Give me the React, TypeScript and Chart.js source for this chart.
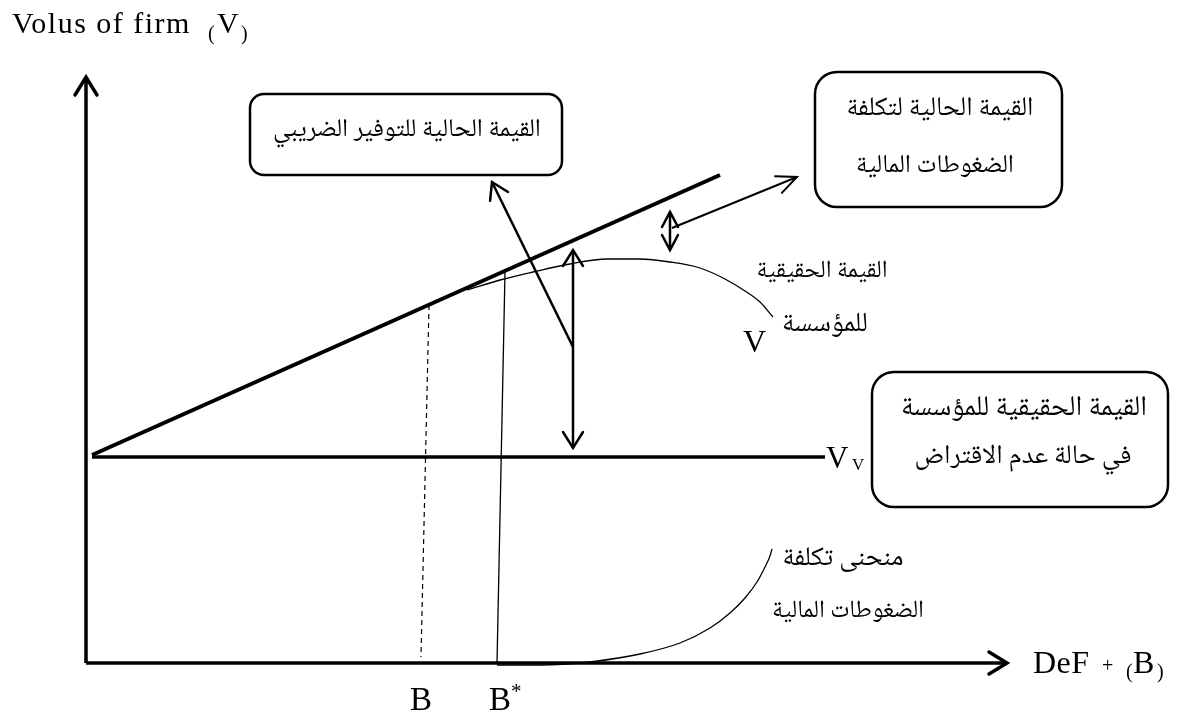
import React, { useEffect, useRef } from "react";
import { Chart, registerables } from "chart.js";

Chart.register(...registerables);

// ---- Diagram data (x = debt "DeF + (B)", y = value of firm "V") ----
const X_MIN = -86;
const X_MAX = 1099;
const Y_MIN = -53;
const Y_MAX = 663;

const yAxisPts = [{ x: 0, y: 0 }, { x: 0, y: 586 }];
const xAxisPts = [{ x: 0, y: 0 }, { x: 921, y: 0 }];
// value with tax shield (no distress costs)
const taxShieldPts = [{ x: 6, y: 208 }, { x: 634, y: 488 }];
// unlevered value Vv
const unleveredPts = [{ x: 6, y: 206 }, { x: 739, y: 206 }];
// actual value of firm V
const firmValueX = [381, 414, 447, 484, 521, 554, 584, 614, 639, 659, 674, 687];
const firmValueY = [373, 383, 391, 399, 404, 404, 401, 395, 384, 372, 361, 346];
// financial distress cost curve
const distressX = [411, 450, 480, 504, 554, 594, 624, 644, 659, 671, 679, 684, 686];
const distressY = [-2, -2, -1, 1, 9, 20, 35, 50, 65, 81, 96, 107, 114];
// optimal debt B* and B
const bStarPts = [{ x: 419, y: 391 }, { x: 411, y: 0 }];
const bPts = [{ x: 343, y: 358 }, { x: 335, y: 6 }];
// arrows
const taxGapArrow = [{ x: 487, y: 413 }, { x: 487, y: 215 }];
const taxPointer = [{ x: 487, y: 316 }, { x: 406, y: 481 }];
const costGapArrow = [{ x: 584, y: 451 }, { x: 584, y: 413 }];
const costPointer = [{ x: 586, y: 435 }, { x: 711, y: 486 }];

// text
const yAxisTitle = "Volus of firm";
const xAxisTitle = "DeF";
const boxTexts = [
  ["القيمة الحالية للتوفير الضريبي"],
  ["القيمة الحالية لتكلفة", "الضغوطات المالية"],
  ["القيمة الحقيقية للمؤسسة", "في حالة عدم الاقتراض"],
];
const curveTexts = ["القيمة الحقيقية", "للمؤسسة", "منحنى تكلفة", "الضغوطات المالية"];

// ---- layout (diagram units) ----
const boxes = [
  { x0: 164, x1: 476, y0: 569, y1: 488, r: 14, lines: [{ cx: 321, cy: 530, w: 268 }] },
  { x0: 729, x1: 976, y0: 591, y1: 456, r: 22, lines: [{ cx: 854, cy: 551, w: 187 }, { cx: 849, cy: 494, w: 158 }] },
  { x0: 786, x1: 1082, y0: 291, y1: 156, r: 22, lines: [{ cx: 938, cy: 252, w: 246 }, { cx: 937, cy: 203, w: 217 }] },
];
const curveTextPos = [
  { cx: 736, cy: 389, w: 131 },
  { cx: 739, cy: 336, w: 86 },
  { cx: 757, cy: 101, w: 121 },
  { cx: 762, cy: 49, w: 152 },
];

const LATIN = "'Liberation Serif','DejaVu Serif',serif";
const ARABIC = "'Noto Naskh Arabic','Amiri','Scheherazade New','Noto Sans Arabic','DejaVu Sans',serif";

const toXY = (xs: number[], ys: number[]) => xs.map((x, i) => ({ x, y: ys[i] }));

function line(data: any[], width: number, extra: any = {}) {
  return {
    data,
    showLine: true,
    borderColor: "#000",
    backgroundColor: "#000",
    borderWidth: width,
    pointRadius: 0,
    fill: false,
    tension: 0,
    borderCapStyle: "butt",
    ...extra,
  };
}

const diagramPlugin = {
  id: "diagram",
  afterDatasetsDraw(chart: any) {
    const ctx: CanvasRenderingContext2D = chart.ctx;
    const sx = chart.scales.x;
    const sy = chart.scales.y;
    const px = (v: number) => sx.getPixelForValue(v);
    const py = (v: number) => sy.getPixelForValue(v);
    ctx.save();
    ctx.strokeStyle = "#000";
    ctx.fillStyle = "#000";

    // arrowheads
    chart.data.datasets.forEach((ds: any, i: number) => {
      if (!ds.arrowEnd && !ds.arrowStart) return;
      const pts = chart.getDatasetMeta(i).data;
      const [len, half] = ds.head;
      const head = (tip: any, from: any) => {
        const a = Math.atan2(tip.y - from.y, tip.x - from.x);
        const bx = tip.x - len * Math.cos(a);
        const by = tip.y - len * Math.sin(a);
        const nx = -Math.sin(a) * half;
        const ny = Math.cos(a) * half;
        ctx.beginPath();
        ctx.moveTo(bx + nx, by + ny);
        ctx.lineTo(tip.x, tip.y);
        ctx.lineTo(bx - nx, by - ny);
        ctx.lineWidth = ds.headWidth || ds.borderWidth;
        ctx.lineJoin = "miter";
        ctx.lineCap = "round";
        ctx.stroke();
      };
      if (ds.arrowEnd) head(pts[pts.length - 1], pts[pts.length - 2]);
      if (ds.arrowStart) head(pts[0], pts[1]);
    });

    // boxes
    const fit = (text: string, w: number) => {
      ctx.font = `100px ${ARABIC}`;
      const m = ctx.measureText(text).width;
      return Math.min(30, (100 * w) / m);
    };
    const drawArabic = (text: string, p: any) => {
      const size = fit(text, p.w);
      ctx.font = `${size}px ${ARABIC}`;
      ctx.textAlign = "center";
      ctx.textBaseline = "middle";
      ctx.direction = "rtl";
      ctx.fillText(text, px(p.cx), py(p.cy));
    };
    boxes.forEach((b, bi) => {
      const x0 = px(b.x0), x1 = px(b.x1), y0 = py(b.y0), y1 = py(b.y1);
      ctx.beginPath();
      ctx.lineWidth = 2.5;
      ctx.roundRect(x0, y0, x1 - x0, y1 - y0, b.r);
      ctx.stroke();
      b.lines.forEach((l, li) => drawArabic(boxTexts[bi][li], l));
    });
    curveTexts.forEach((t, i) => drawArabic(t, curveTextPos[i]));

    // latin labels
    ctx.direction = "ltr";
    ctx.textAlign = "left";
    ctx.textBaseline = "alphabetic";
    const tx = (t: string, x: number, y: number, size: number, spacing = 0) => {
      ctx.font = `${size}px ${LATIN}`;
      (ctx as any).letterSpacing = `${spacing}px`;
      ctx.fillText(t, px(x), py(y));
      (ctx as any).letterSpacing = "0px";
    };
    tx(yAxisTitle, -74, 630, 30, 1.5);
    tx("(", 122, 623, 20);
    tx("V", 131, 630, 30);
    tx(")", 155, 623, 20);

    tx(xAxisTitle, 947, -10, 32, 0.5);
    tx("+", 1016, -9, 20);
    tx("(", 1040, -15, 20);
    tx("B", 1047, -10, 32);
    tx(")", 1071, -15, 20);

    tx("B", 324, -47, 33);
    tx("B", 403, -47, 33);
    tx("*", 425, -35, 21);

    tx("V", 657, 311, 32);
    tx("V", 740, 195, 31);
    tx("V", 766, 193, 17);

    ctx.restore();
  },
};

export default function App() {
  const ref = useRef<HTMLCanvasElement | null>(null);
  useEffect(() => {
    document.body.style.margin = "0";
    if (!ref.current) return;
    const chart = new Chart(ref.current, {
      type: "scatter",
      data: {
        datasets: [
          line(yAxisPts, 3.5, { arrowEnd: true, head: [18, 11] }),
          line(xAxisPts, 3.5, { arrowEnd: true, head: [18, 11] }),
          line(taxShieldPts, 4),
          line(unleveredPts, 3.5),
          line(toXY(firmValueX, firmValueY), 1.3, { cubicInterpolationMode: "monotone" }),
          line(toXY(distressX, distressY), 1.3, { cubicInterpolationMode: "monotone" }),
          line(bStarPts, 1.3),
          line(bPts, 1.2, { borderDash: [5, 4] }),
          line(taxGapArrow, 2.5, { arrowEnd: true, arrowStart: true, head: [16, 10] }),
          line(taxPointer, 2.5, { arrowEnd: true, head: [16, 10] }),
          line(costGapArrow, 2.5, { arrowEnd: true, arrowStart: true, head: [15, 8] }),
          line(costPointer, 2, { arrowEnd: true, head: [20, 9] }),
        ] as any,
      },
      options: {
        responsive: false,
        animation: false,
        events: [],
        layout: { padding: 0 },
        plugins: { legend: { display: false }, tooltip: { enabled: false } },
        scales: {
          x: { type: "linear", min: X_MIN, max: X_MAX, display: false },
          y: { type: "linear", min: Y_MIN, max: Y_MAX, display: false },
        },
      } as any,
      plugins: [diagramPlugin],
    });
    return () => chart.destroy();
  }, []);
  return (
    <div style={{ width: 1185, height: 716, background: "#fff" }}>
      <canvas ref={ref} width={1185} height={716} />
    </div>
  );
}
